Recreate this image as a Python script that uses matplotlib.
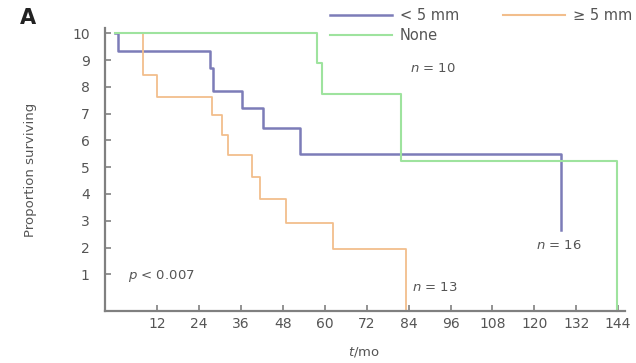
import matplotlib
matplotlib.use("Agg")
import matplotlib.pyplot as plt
from matplotlib.lines import Line2D

# ---- data ----
lt5_t = [0, 0.6, 27.2, 28.0, 36.2, 42.3, 53.0, 127.6]
lt5_s = [10, 9.35, 8.7, 7.85, 7.2, 6.45, 5.48, 2.65]

ge5_t = [0, 7.8, 11.9, 27.8, 30.5, 32.2, 39.2, 41.5, 49.0, 62.4, 83.3]
ge5_s = [10, 8.43, 7.62, 6.94, 6.2, 5.45, 4.64, 3.8, 2.9, 1.96, -0.37]

none_t = [0, 57.8, 59.3, 81.9, 143.8]
none_s = [10, 8.9, 7.72, 5.22, -0.37]

series_labels = ["< 5 mm", "\u2265 5 mm", "None"]
xticks = [12, 24, 36, 48, 60, 72, 84, 96, 108, 120, 132, 144]
yticks = [1, 2, 3, 4, 5, 6, 7, 8, 9, 10]

c_blue = "#7c7cb8"
c_orange = "#f2be8c"
c_green = "#9ee39e"
c_axis = "#808080"
c_text = "#555555"

W, H = 636, 363
fig = plt.figure(figsize=(W / 100, H / 100), dpi=100)
ax = fig.add_axes([105 / W, (H - 311) / H, 520 / W, 283 / H])

ax.step(lt5_t, lt5_s, where="post", color=c_blue, lw=1.8, clip_on=False)
ax.step(ge5_t, ge5_s, where="post", color=c_orange, lw=1.3, clip_on=False)
ax.step(none_t, none_s, where="post", color=c_green, lw=1.5, clip_on=False)

ax.set_xlim(-3, 146)
ax.set_ylim(-0.37, 10.2)
ax.set_xticks(xticks)
ax.set_yticks(yticks)
for s in ["top", "right"]:
    ax.spines[s].set_visible(False)
for s in ["left", "bottom"]:
    ax.spines[s].set_color(c_axis)
    ax.spines[s].set_linewidth(1.6)
ax.tick_params(direction="in", length=4, width=1.2, color=c_axis,
               labelsize=10, labelcolor=c_text)
ax.tick_params(axis="y", pad=11)
ax.tick_params(axis="x", pad=4)

ax.set_ylabel("Proportion surviving", fontsize=9.5, color=c_text)
ax.yaxis.set_label_coords(-0.13, 0.5)
ax.set_xlabel(r"$t$/mo", fontsize=9.5, color=c_text)
ax.xaxis.set_label_coords(0.498, -0.12)

ax.text(84.3, 8.7, r"$n$ = 10", fontsize=9.5, color=c_text, va="center", ha="left")
ax.text(120.5, 2.09, r"$n$ = 16", fontsize=9.5, color=c_text, va="center", ha="left")
ax.text(85.1, 0.52, r"$n$ = 13", fontsize=9.5, color=c_text, va="center", ha="left")
ax.text(3.7, 0.93, r"$p$ < 0.007", fontsize=9.5, color=c_text, va="center", ha="left")

fig.text(20 / W, 1 - 18 / H, "A", fontsize=15, fontweight="bold", color="#222222",
         ha="left", va="center")

handles = [
    Line2D([], [], color=c_blue, lw=1.8, label=series_labels[0]),
    Line2D([], [], color=c_green, lw=1.5, label=series_labels[2]),
    Line2D([], [], color=c_orange, lw=1.5, label=series_labels[1]),
]
fig.legend(handles=handles, ncol=2, loc="upper left",
           bbox_to_anchor=(330 / W, 1 - 8 / H), frameon=False, borderpad=0,
           borderaxespad=0, fontsize=10.5, handlelength=4.25, handletextpad=0.55,
           columnspacing=3.0, labelspacing=0.37, labelcolor=c_text)

fig.savefig("out.png", dpi=100, facecolor="white")
